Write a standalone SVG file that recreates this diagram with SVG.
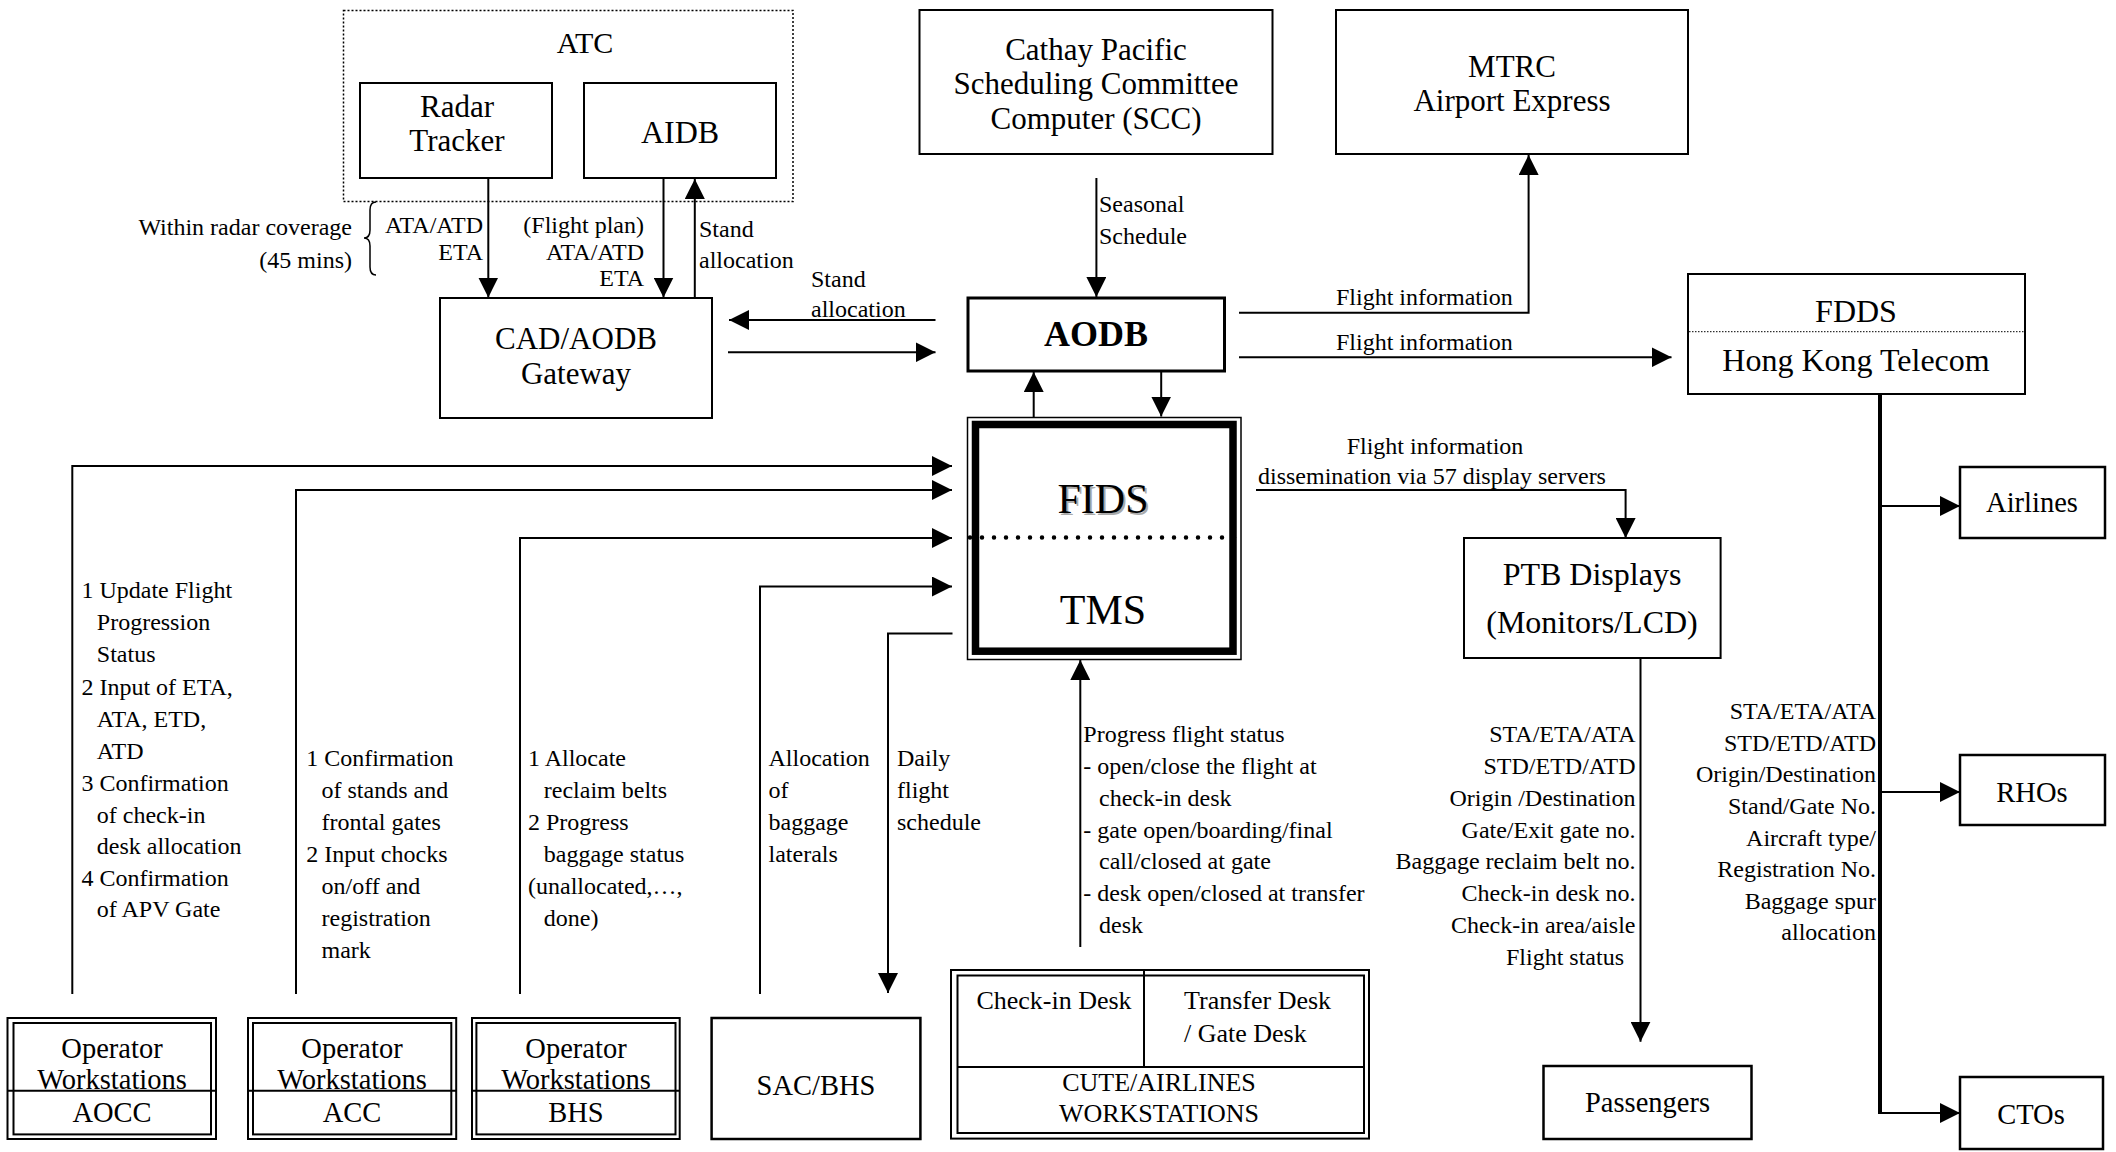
<svg xmlns="http://www.w3.org/2000/svg" width="2116" height="1152" viewBox="0 0 2116 1152">
<defs>
<style>
text{font-family:"Liberation Serif","Times New Roman",serif;fill:#000}
.b{fill:#fff;stroke:#000;stroke-width:2}
.t32{font-size:32px;text-anchor:middle}
.t31{font-size:31px;text-anchor:middle}
.t28{font-size:28.5px;text-anchor:middle}
.t26{font-size:26px}
.l{font-size:24px}
.e{text-anchor:end}
.m{text-anchor:middle}
.c{fill:none;stroke:#000;stroke-width:2}
.a{marker-end:url(#ah)}
</style>
<marker id="ah" viewBox="0 0 20 20" markerWidth="20" markerHeight="20" refX="20" refY="10" orient="auto" markerUnits="userSpaceOnUse">
<path d="M0,0 L20,10 L0,20 z" fill="#000"/>
</marker>
</defs>
<rect width="2116" height="1152" fill="#fff"/>

<g id="atc">
<rect x="343.5" y="10.5" width="449.5" height="191" fill="none" stroke="#000" stroke-width="1.5" stroke-dasharray="2,2"/>
<text x="585" y="53" style="font-size:30px" class="m">ATC</text>
</g>
<g id="radar">
<rect class="b" x="360" y="83" width="192" height="95"/>
<text class="t31" x="457" y="116.5">Radar</text>
<text class="t31" x="457" y="151">Tracker</text>
</g>
<g id="aidb">
<rect class="b" x="584" y="83" width="192" height="95"/>
<text class="t32" x="680" y="143">AIDB</text>
</g>
<g id="cad">
<rect class="b" x="440" y="298" width="272" height="120"/>
<text class="t31" x="576" y="349">CAD/AODB</text>
<text class="t31" x="576" y="383.5">Gateway</text>
</g>
<g id="cathay">
<rect class="b" x="919.5" y="10" width="353" height="144"/>
<text class="t31" x="1096" y="59.5">Cathay Pacific</text>
<text class="t31" x="1096" y="94">Scheduling Committee</text>
<text class="t31" x="1096" y="128.5">Computer (SCC)</text>
</g>
<g id="mtrc">
<rect class="b" x="1336" y="10" width="352" height="144"/>
<text class="t31" x="1512" y="76.5">MTRC</text>
<text class="t31" x="1512" y="111">Airport Express</text>
</g>
<g id="aodb">
<rect class="b" x="968" y="298" width="256.5" height="73" style="stroke-width:3"/>
<text x="1096" y="346" class="m" style="font-size:36px;font-weight:bold">AODB</text>
</g>
<g id="fdds">
<rect class="b" x="1688" y="274" width="337" height="120"/>
<line x1="1689" y1="331.7" x2="2024" y2="331.7" stroke="#000" stroke-width="1" stroke-dasharray="1.5,1.5"/>
<text class="t32" x="1856" y="322">FDDS</text>
<text class="t32" x="1856" y="371">Hong Kong Telecom</text>
</g>
<g id="airlines">
<rect class="b" x="1960" y="467" width="145" height="71" style="stroke-width:2.5"/>
<text class="t28" x="2032" y="512">Airlines</text>
</g>
<g id="rhos">
<rect class="b" x="1960" y="755" width="145" height="70" style="stroke-width:2.5"/>
<text class="t28" x="2032" y="802">RHOs</text>
</g>
<g id="ctos">
<rect class="b" x="1960" y="1077" width="143" height="72" style="stroke-width:2.5"/>
<text class="t28" x="2031" y="1124">CTOs</text>
</g>
<g id="fids">
<rect x="967.5" y="417.5" width="273.5" height="242" fill="#fff" stroke="#000" stroke-width="1.5"/>
<rect x="975.5" y="424.5" width="257.5" height="226.7" fill="none" stroke="#000" stroke-width="7.5"/>
<line x1="970" y1="537.5" x2="1237" y2="537.5" stroke="#000" stroke-width="4.5" stroke-linecap="round" stroke-dasharray="0,12"/>
<text x="1105" y="515" class="m" style="font-size:42px;fill:#aaa">FIDS</text>
<text x="1103" y="513" class="m" style="font-size:42px">FIDS</text>
<text x="1103" y="624" class="m" style="font-size:42px">TMS</text>
</g>
<g id="ptb">
<rect class="b" x="1464" y="538" width="256.6" height="120"/>
<text class="t32" x="1592" y="585">PTB Displays</text>
<text class="t32" x="1592" y="633">(Monitors/LCD)</text>
</g>
<g id="passengers">
<rect class="b" x="1543.5" y="1066" width="208" height="73" style="stroke-width:2.5"/>
<text class="t28" x="1647.5" y="1112">Passengers</text>
</g>
<g id="cute">
<rect class="b" x="951" y="970" width="418" height="168.6"/>
<rect x="957.5" y="975.5" width="406.5" height="157.5" fill="none" stroke="#000" stroke-width="2"/>
<line x1="1144" y1="970" x2="1144" y2="1067" stroke="#000" stroke-width="2"/>
<line x1="957.5" y1="1067" x2="1364" y2="1067" stroke="#000" stroke-width="2"/>
<text class="t26 m" x="1054" y="1009">Check-in Desk</text>
<text class="t26" x="1184" y="1009">Transfer Desk</text>
<text class="t26" x="1184" y="1042">/ Gate Desk</text>
<text class="t26 m" x="1159" y="1091">CUTE/AIRLINES</text>
<text class="t26 m" x="1159" y="1122">WORKSTATIONS</text>
</g>
<g id="ow-aocc">
<rect class="b" x="7.5" y="1018" width="208.5" height="121"/>
<rect x="13.5" y="1023" width="197.5" height="111.4" fill="none" stroke="#000" stroke-width="2"/>
<text class="t28" x="112" y="1058">Operator</text>
<text class="t28" x="112" y="1089">Workstations</text>
<line x1="7.5" y1="1090.7" x2="216" y2="1090.7" stroke="#000" stroke-width="2"/>
<text class="t28" x="112" y="1121.5">AOCC</text>
</g>
<g id="ow-acc">
<rect class="b" x="248" y="1018" width="208.2" height="121"/>
<rect x="253" y="1023" width="198.3" height="111.4" fill="none" stroke="#000" stroke-width="2"/>
<text class="t28" x="352" y="1058">Operator</text>
<text class="t28" x="352" y="1089">Workstations</text>
<line x1="248" y1="1090.7" x2="456.2" y2="1090.7" stroke="#000" stroke-width="2"/>
<text class="t28" x="352" y="1121.5">ACC</text>
</g>
<g id="ow-bhs">
<rect class="b" x="472" y="1018" width="207.7" height="121"/>
<rect x="476.4" y="1023" width="199.1" height="111.4" fill="none" stroke="#000" stroke-width="2"/>
<text class="t28" x="576" y="1058">Operator</text>
<text class="t28" x="576" y="1089">Workstations</text>
<line x1="472" y1="1090.7" x2="679.7" y2="1090.7" stroke="#000" stroke-width="2"/>
<text class="t28" x="576" y="1121.5">BHS</text>
</g>
<g id="sacbhs">
<rect class="b" x="711.6" y="1018" width="208.8" height="121" style="stroke-width:2.5"/>
<text class="t28" x="816" y="1095">SAC/BHS</text>
</g>

<g id="connectors">
<line class="c a" x1="488.3" y1="178" x2="488.3" y2="297.5"/>
<line class="c a" x1="663.5" y1="178" x2="663.5" y2="297.5"/>
<line class="c a" x1="694.8" y1="298" x2="694.8" y2="179"/>
<line class="c a" x1="935.5" y1="320" x2="729" y2="320"/>
<line class="c a" x1="728" y1="352.3" x2="935.5" y2="352.3"/>
<line class="c a" x1="1096.4" y1="178" x2="1096.4" y2="297"/>
<polyline class="c a" points="1239,312.7 1528.6,312.7 1528.6,155"/>
<line class="c a" x1="1239" y1="357.3" x2="1671.5" y2="357.3"/>
<line class="c a" x1="1033.7" y1="417" x2="1033.7" y2="372"/>
<line class="c a" x1="1161.2" y1="371.5" x2="1161.2" y2="416.5"/>
<polyline class="c a" points="72.3,994 72.3,466 952,466"/>
<polyline class="c a" points="296,994 296,490 952,490"/>
<polyline class="c a" points="520,994 520,538 952,538"/>
<polyline class="c a" points="760,994 760,586.5 952,586.5"/>
<polyline class="c a" points="952.5,633.5 888,633.5 888,993"/>
<line class="c a" x1="1080.3" y1="947" x2="1080.3" y2="660"/>
<polyline class="c a" points="1256,490 1625.6,490 1625.6,538"/>
<line class="c a" x1="1640.5" y1="658" x2="1640.5" y2="1041.7"/>
<line x1="1880" y1="394" x2="1880" y2="1114" stroke="#000" stroke-width="4"/>
<line class="c a" x1="1880" y1="506" x2="1960" y2="506"/>
<line class="c a" x1="1880" y1="792" x2="1960" y2="792"/>
<line class="c a" x1="1880" y1="1113" x2="1960" y2="1113"/>
<path d="M376,202 Q370,202 370,210 L370,230 Q370,238 364,238 Q370,238 370,246 L370,267 Q370,275 376,275" fill="none" stroke="#000" stroke-width="1.5"/>
</g>

<g id="labels" class="l">
<text class="l e" x="352" y="235">Within radar coverage</text>
<text class="l e" x="352" y="268">(45 mins)</text>
<text class="l e" x="483" y="233">ATA/ATD</text>
<text class="l e" x="483" y="260">ETA</text>
<text class="l e" x="644" y="233">(Flight plan)</text>
<text class="l e" x="644" y="260">ATA/ATD</text>
<text class="l e" x="644" y="286">ETA</text>
<text class="l" x="699" y="237">Stand</text>
<text class="l" x="699" y="268">allocation</text>
<text class="l" x="811" y="287">Stand</text>
<text class="l" x="811" y="317">allocation</text>
<text class="l" x="1099" y="212">Seasonal</text>
<text class="l" x="1099" y="244">Schedule</text>
<text class="l" x="1336" y="305">Flight information</text>
<text class="l" x="1336" y="350">Flight information</text>
<text class="l m" x="1435" y="454">Flight information</text>
<text class="l m" x="1432" y="484">dissemination via 57 display servers</text>

<text class="l" x="81.4" y="598">1 Update Flight</text>
<text class="l" x="96.8" y="630">Progression</text>
<text class="l" x="96.8" y="662">Status</text>
<text class="l" x="81.4" y="694.5">2 Input of ETA,</text>
<text class="l" x="96.8" y="726.5">ATA, ETD,</text>
<text class="l" x="96.8" y="758.5">ATD</text>
<text class="l" x="81.4" y="790.5">3 Confirmation</text>
<text class="l" x="96.8" y="822.5">of check-in</text>
<text class="l" x="96.8" y="854">desk allocation</text>
<text class="l" x="81.4" y="886">4 Confirmation</text>
<text class="l" x="96.8" y="917">of APV Gate</text>

<text class="l" x="306.2" y="766">1 Confirmation</text>
<text class="l" x="321.5" y="798">of stands and</text>
<text class="l" x="321.5" y="830">frontal gates</text>
<text class="l" x="306.2" y="862">2 Input chocks</text>
<text class="l" x="321.5" y="894">on/off and</text>
<text class="l" x="321.5" y="926">registration</text>
<text class="l" x="321.5" y="958">mark</text>

<text class="l" x="528" y="766">1 Allocate</text>
<text class="l" x="543.8" y="798">reclaim belts</text>
<text class="l" x="528" y="830">2 Progress</text>
<text class="l" x="543.8" y="862">baggage status</text>
<text class="l" x="528" y="894">(unallocated,…,</text>
<text class="l" x="543.8" y="926">done)</text>

<text class="l" x="768.5" y="766">Allocation</text>
<text class="l" x="768.5" y="798">of</text>
<text class="l" x="768.5" y="830">baggage</text>
<text class="l" x="768.5" y="862">laterals</text>

<text class="l" x="897" y="766">Daily</text>
<text class="l" x="897" y="798">flight</text>
<text class="l" x="897" y="830">schedule</text>

<text class="l" x="1083.3" y="741.5">Progress flight status</text>
<text class="l" x="1083.3" y="774">- open/close the flight at</text>
<text class="l" x="1099" y="805.5">check-in desk</text>
<text class="l" x="1083.3" y="837.5">- gate open/boarding/final</text>
<text class="l" x="1099" y="869">call/closed at gate</text>
<text class="l" x="1083.3" y="901">- desk open/closed at transfer</text>
<text class="l" x="1099" y="933">desk</text>

<text class="l e" x="1635.5" y="741.5">STA/ETA/ATA</text>
<text class="l e" x="1635.5" y="774">STD/ETD/ATD</text>
<text class="l e" x="1635.5" y="805.5">Origin /Destination</text>
<text class="l e" x="1635.5" y="837.5">Gate/Exit gate no.</text>
<text class="l e" x="1635.5" y="869">Baggage reclaim belt no.</text>
<text class="l e" x="1635.5" y="901">Check-in desk no.</text>
<text class="l e" x="1635.5" y="933">Check-in area/aisle</text>
<text class="l e" x="1624" y="965">Flight status</text>

<text class="l e" x="1876" y="719">STA/ETA/ATA</text>
<text class="l e" x="1876" y="750.6">STD/ETD/ATD</text>
<text class="l e" x="1876" y="782.2">Origin/Destination</text>
<text class="l e" x="1876" y="813.9">Stand/Gate No.</text>
<text class="l e" x="1876" y="845.5">Aircraft type/</text>
<text class="l e" x="1876" y="877">Registration No.</text>
<text class="l e" x="1876" y="908.8">Baggage spur</text>
<text class="l e" x="1876" y="940.4">allocation</text>
</g>
</svg>
